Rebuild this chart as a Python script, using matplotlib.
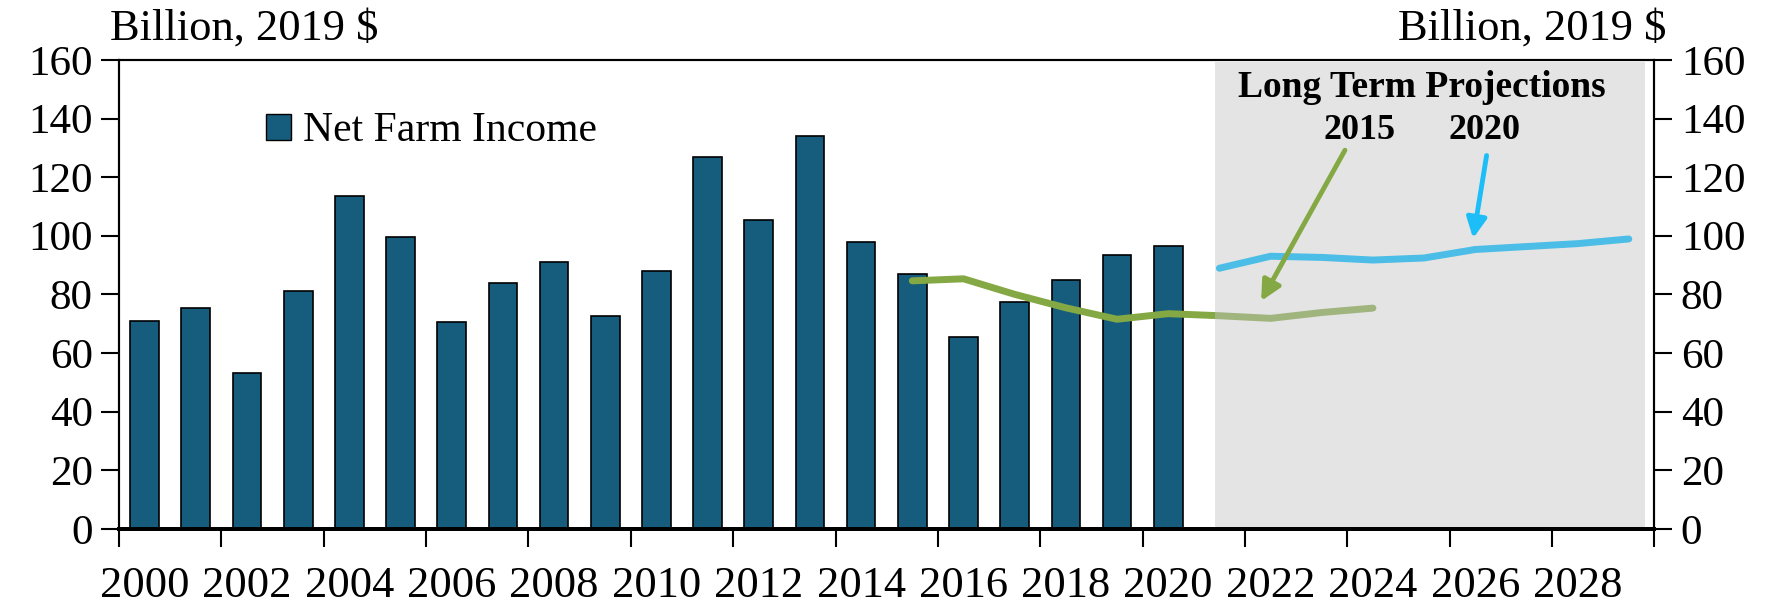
import matplotlib.pyplot as plt
from matplotlib.patches import Rectangle, Patch

plt.rcParams['font.family'] = ['Liberation Serif', 'DejaVu Serif']

# DATOS

anios = list(range(2000, 2030))

anios_ingreso = list(range(2000, 2021))
ingreso_neto = [71, 75.5, 53, 81, 113.5, 99.5, 70.5, 84, 91, 72.5, 88,
                127, 105.5, 134, 98, 87, 65.5, 77.5, 85, 93.5, 96.5]

anios_proy_2015 = list(range(2015, 2025))
proy_2015 = [84.6, 85.3, 80, 75.4, 71.5, 73.4, 72.7, 71.8, 73.8, 75.3]

anios_proy_2020 = list(range(2021, 2030))
proy_2020 = [88.9, 93, 92.6, 91.7, 92.4, 95.3, 96.3, 97.3, 98.9]

etiquetas_x = [str(a) for a in range(2000, 2030, 2)]
ticks_y = list(range(0, 161, 20))

# GRAFICO

azul_barra = "#165C7D"
verde = "#84A844"
celeste = "#4BBDE6"
celeste_flecha = "#1DBEF7"

fig = plt.figure(figsize=(17.77, 6.05), dpi=100)
ax = fig.add_axes([0.067, 0.126, 0.864, 0.775])

pos = lambda a: a - 2000

ax.bar([pos(a) for a in anios_ingreso], ingreso_neto, width=0.56,
       color=azul_barra, edgecolor="black", linewidth=1.2, zorder=2)

ax.plot([pos(a) for a in anios_proy_2015], proy_2015, color=verde,
        linewidth=5, solid_capstyle="round", zorder=3)

# zona de proyecciones
ax.add_patch(Rectangle((20.92, 0.6), 8.4, 158.6, facecolor="#C4C4C4",
                       alpha=0.45, edgecolor="none", zorder=4))

ax.plot([pos(a) for a in anios_proy_2020], proy_2020, color=celeste,
        linewidth=5, solid_capstyle="round", zorder=5)

ax.set_xlim(-0.5, len(anios) - 0.5)
ax.set_ylim(0, 160)

ax.set_xticks([pos(int(e)) for e in etiquetas_x])
ax.set_xticklabels(etiquetas_x, fontsize=32)
ax.tick_params(axis="x", which="major", length=0, pad=27)
ax.set_xticks([i - 0.5 for i in range(0, 31, 2)], minor=True)
ax.tick_params(axis="x", which="minor", length=13, width=1.5, direction="out")

ax.set_yticks(ticks_y)
ax.set_yticklabels([str(t) for t in ticks_y], fontsize=31)
ax.tick_params(axis="y", length=13, width=1.5, direction="out", pad=6)

ax2 = ax.twinx()
ax2.set_ylim(0, 160)
ax2.set_yticks(ticks_y)
ax2.set_yticklabels([str(t) for t in ticks_y], fontsize=31)
ax2.tick_params(axis="y", length=13, width=1.5, direction="out", pad=6)

for a in (ax, ax2):
    a.spines["bottom"].set_linewidth(2.8)
    a.spines["left"].set_linewidth(1.5)
    a.spines["right"].set_linewidth(1.5)
    a.spines["top"].set_linewidth(1.5)

fig.text(0.062, 0.935, "Billion, 2019 $", fontsize=32, ha="left", va="baseline")
fig.text(0.938, 0.935, "Billion, 2019 $", fontsize=32, ha="right", va="baseline")

# leyenda
ax.legend(handles=[Patch(facecolor=azul_barra, edgecolor="black",
                         label="Net Farm Income")],
          loc="upper left", bbox_to_anchor=(0.071, 0.969), frameon=False,
          fontsize=30, handlelength=0.6, handleheight=0.6,
          handletextpad=0.3)

# anotaciones
ax.text(24.96, 150.5, "Long Term Projections", fontsize=27, fontweight="bold",
        ha="center", va="center", zorder=6)
ax.text(23.74, 136, "2015", fontsize=26, fontweight="bold",
        ha="center", va="center", zorder=6)
ax.text(26.18, 136, "2020", fontsize=26, fontweight="bold",
        ha="center", va="center", zorder=6)

ax.annotate("", xy=(21.79, 76.9), xytext=(23.48, 130),
            arrowprops=dict(arrowstyle="-|>", color=verde, lw=3.5,
                            mutation_scale=30), zorder=6)
ax.annotate("", xy=(25.95, 98.2), xytext=(26.23, 128.3),
            arrowprops=dict(arrowstyle="-|>", color=celeste_flecha, lw=3.5,
                            mutation_scale=30), zorder=6)

plt.savefig("out.png", dpi=100)
plt.close()
